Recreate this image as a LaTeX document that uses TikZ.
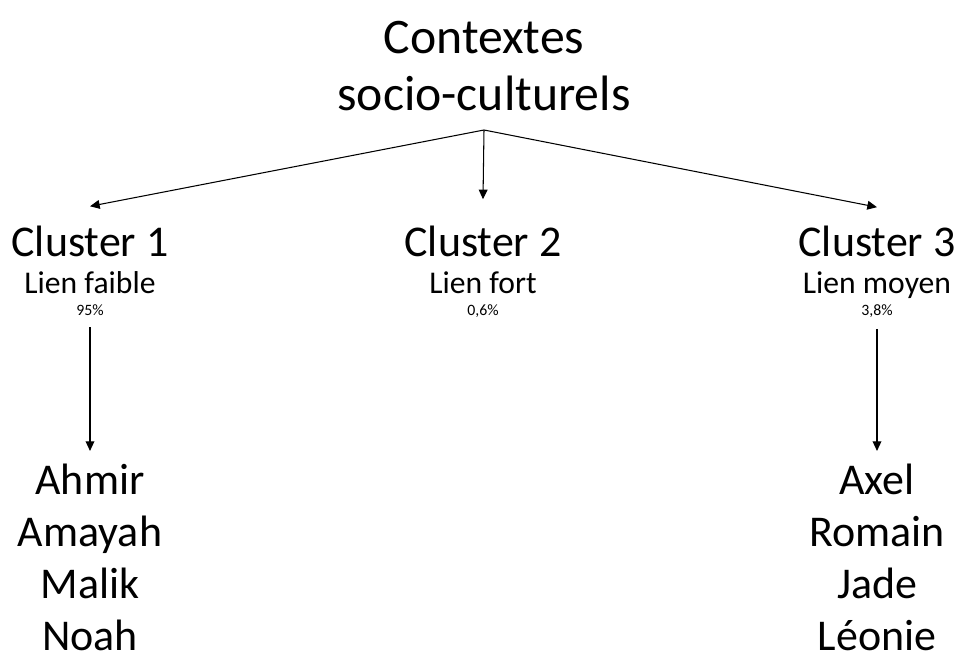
\documentclass[tikz,border=0pt]{standalone}
\usepackage{fontspec}
\setmainfont{Carlito}
\usetikzlibrary{arrows.meta}

\tikzset{
  title/.style={font=\fontsize{28.3}{32.5}\selectfont, align=center, inner sep=0pt},
  cluster/.style={font=\fontsize{25}{29}\selectfont, inner sep=0pt, anchor=base},
  lien/.style={font=\fontsize{18}{21}\selectfont, inner sep=0pt, anchor=base},
  pct/.style={font=\fontsize{9}{11}\selectfont, inner sep=0pt, anchor=base},
  names/.style={font=\fontsize{25}{29.6}\selectfont, align=center, inner sep=0pt},
  link/.style={-{Triangle[length=5.5pt,width=5pt]}, line width=0.6pt}
}

\begin{document}
\begin{tikzpicture}[x=0.02cm, y=-0.02cm]
    \useasboundingbox (0,0) rectangle (958,655);

    % Title
    \node[title] (ctx) at (484,66) {Contextes\\socio-culturels};
    \coordinate (apex) at (484,130);

    % Clusters
    \node[cluster] (c1) at (90,257) {Cluster 1};
    \node[cluster] (c2) at (483,257) {Cluster 2};
    \node[cluster] (c3) at (877,257) {Cluster 3};

    \node[lien] (l1) at (90,294) {Lien faible};
    \node[lien] (l2) at (483,294) {Lien fort};
    \node[lien] (l3) at (877,294) {Lien moyen};

    \node[pct] (p1) at (90,316) {95\%};
    \node[pct] (p2) at (483,316) {0,6\%};
    \node[pct] (p3) at (877,316) {3,8\%};

    % Members
    \node[names] (m1) at (90,557) {Ahmir\\Amayah\\Malik\\Noah};
    \node[names] (m3) at (877,557) {Axel\\Romain\\Jade\\Léonie};

    % Arrows
    \draw[link] (apex) -- ([yshift=11.3pt]c1.north);
    \draw[link] (apex) -- ([yshift=15.3pt]c2.north);
    \draw[link] (apex) -- ([yshift=10.8pt]c3.north);
    \draw[link, shorten <=6pt] (p1.south) -- ([yshift=7pt]m1.north);
    \draw[link, shorten <=6pt] (p3.south) -- ([yshift=7pt]m3.north);
\end{tikzpicture}
\end{document}
